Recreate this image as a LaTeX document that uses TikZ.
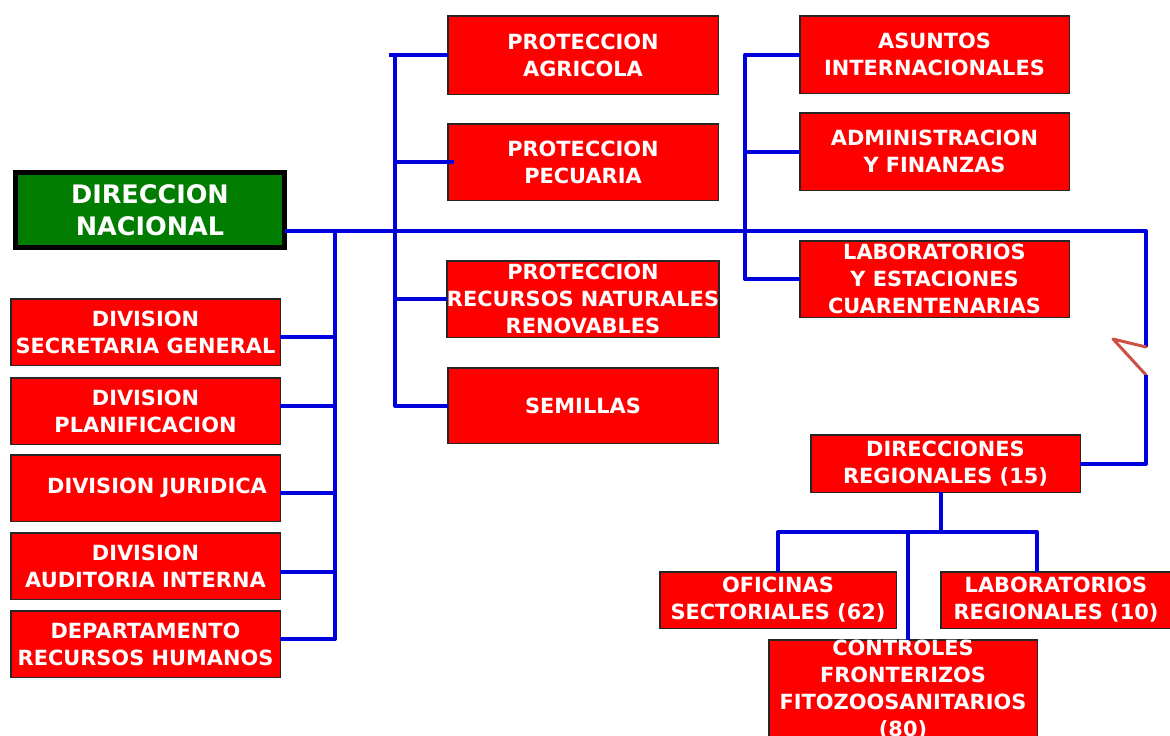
\documentclass[tikz,border=0pt]{standalone}
\usepackage{fontspec}
\setmainfont{DejaVu Sans}
\definecolor{busblue}{RGB}{0,0,220}
\definecolor{zigred}{RGB}{205,80,70}
\definecolor{boxred}{RGB}{255,0,0}
\definecolor{boxgreen}{RGB}{0,125,0}
\begin{document}
\begin{tikzpicture}[x=1pt,y=-1pt,
  redbox/.style={rectangle, fill=boxred, draw=black!85, line width=1.5pt, inner sep=0pt, outer sep=0pt,
    text=white, align=center, font=\bfseries\fontsize{20.9}{27}\selectfont},
  greenbox/.style={rectangle, fill=boxgreen, draw=black, line width=5pt, inner sep=0pt, outer sep=0pt,
    text=white, align=center, font=\bfseries\fontsize{25.5}{32}\selectfont,
    minimum width=269pt, minimum height=75pt},
  bus/.style={draw=busblue, line width=4pt, line join=round},
  zig/.style={draw=zigred, line width=3pt, line cap=round, line join=round}]
\useasboundingbox (0,0) rectangle (1170,736);
\clip (0,0) rectangle (1170,736);

% top node
\node[greenbox] (dn) at (150,210) {DIRECCION\\NACIONAL};

% left column
\node[redbox, minimum width=269.5pt, minimum height=66.5pt] (sg) at (145.5,332) {DIVISION\\SECRETARIA GENERAL};
\node[redbox, minimum width=269.5pt, minimum height=66.5pt] (pl) at (145.5,411) {DIVISION\\PLANIFICACION};
\node[redbox, minimum width=269.5pt, minimum height=66.5pt] (ju) at (145.5,488) {\hspace*{23pt}DIVISION JURIDICA};
\node[redbox, minimum width=269.5pt, minimum height=66.5pt] (au) at (145.5,566) {DIVISION\\AUDITORIA INTERNA};
\node[redbox, minimum width=269.5pt, minimum height=66.5pt] (rh) at (145.5,644) {DEPARTAMENTO\\RECURSOS HUMANOS};

% middle column
\node[redbox, minimum width=270.5pt, minimum height=78.5pt] (pa) at (583,55) {PROTECCION\\AGRICOLA};
\node[redbox, minimum width=270.5pt, minimum height=76.5pt] (pp) at (583,162) {PROTECCION\\PECUARIA};
\node[redbox, minimum width=270.5pt, minimum height=76.5pt] (rn) at (583,299) {PROTECCION\\RECURSOS NATURALES\\RENOVABLES};
\node[redbox, minimum width=270.5pt, minimum height=75.5pt] (se) at (583,405.5) {SEMILLAS};

% right column
\node[redbox, minimum width=269.5pt, minimum height=77.5pt] (ai) at (934.5,54.5) {ASUNTOS\\INTERNACIONALES};
\node[redbox, minimum width=269.5pt, minimum height=77.5pt] (af) at (934.5,151.5) {ADMINISTRACION\\Y FINANZAS};
\node[redbox, minimum width=269.5pt, minimum height=76.5pt] (le) at (934.5,279) {LABORATORIOS\\Y ESTACIONES\\CUARENTENARIAS};

% regional
\node[redbox, minimum width=269.5pt, minimum height=57.5pt] (dr) at (945.5,463.5) {DIRECCIONES\\REGIONALES (15)};
\node[redbox, minimum width=236.5pt, minimum height=56.5pt] (os) at (778,600) {OFICINAS\\SECTORIALES (62)};
\node[redbox, minimum width=230.5pt, minimum height=56.5pt] (lr) at (1056,600) {LABORATORIOS\\REGIONALES (10)};
\node[redbox, minimum width=268.5pt, minimum height=99.5pt] (cf) at (903,689.5) {CONTROLES\\FRONTERIZOS\\FITOZOOSANITARIOS\\(80)};

% bus coordinates
\coordinate (jl) at (335,231);
\coordinate (mtop) at (395,55);
\coordinate (jr) at (745,231);
\coordinate (ce) at (1146,231);
\coordinate (z1) at (1146,347);
\coordinate (z2) at (1113,339);
\coordinate (z3) at (1146,375);
\coordinate (bj) at (941,532);
\coordinate (bl) at (778,532);
\coordinate (bm) at (908,532);
\coordinate (br) at (1037,532);

% main line
\draw[bus] ([yshift=-21pt]dn.east) -- (ce) -- (z1);
\draw[zig] (z1) -- (z2) -- (z3);
\draw[bus] (z3) |- (dr.east);

% left bus
\draw[bus] (jl) -- ([yshift=5pt]rh.east -| jl) -- ([yshift=5pt]rh.east);
\draw[bus] ([yshift=-5pt]sg.east) -- ([yshift=-5pt]sg.east -| jl);
\draw[bus] ([yshift=5pt]pl.east) -- ([yshift=5pt]pl.east -| jl);
\draw[bus] ([yshift=-5pt]ju.east) -- ([yshift=-5pt]ju.east -| jl);
\draw[bus] ([yshift=-6pt]au.east) -- ([yshift=-6pt]au.east -| jl);

% middle bus
\draw[bus] ([xshift=-6pt]mtop) -- (pa.west);
\draw[bus] (mtop) -- (mtop |- se.west) -- (se.west);
\draw[bus] (mtop |- pp.west) -- ([xshift=6pt]pp.west);
\draw[bus] (mtop |- rn.west) -- (rn.west);

% right bus
\draw[bus] (ai.west) -- (ai.west -| jr) -- (le.west -| jr) -- (le.west);
\draw[bus] (af.west) -- (af.west -| jr);

% regional tree
\draw[bus] (dr.south -| bj) -- (bj);
\draw[bus] (os.north) -- (bl) -- (br) -- (br |- lr.north);
\draw[bus] (bm) -- (bm |- cf.north);
\end{tikzpicture}
\end{document}
